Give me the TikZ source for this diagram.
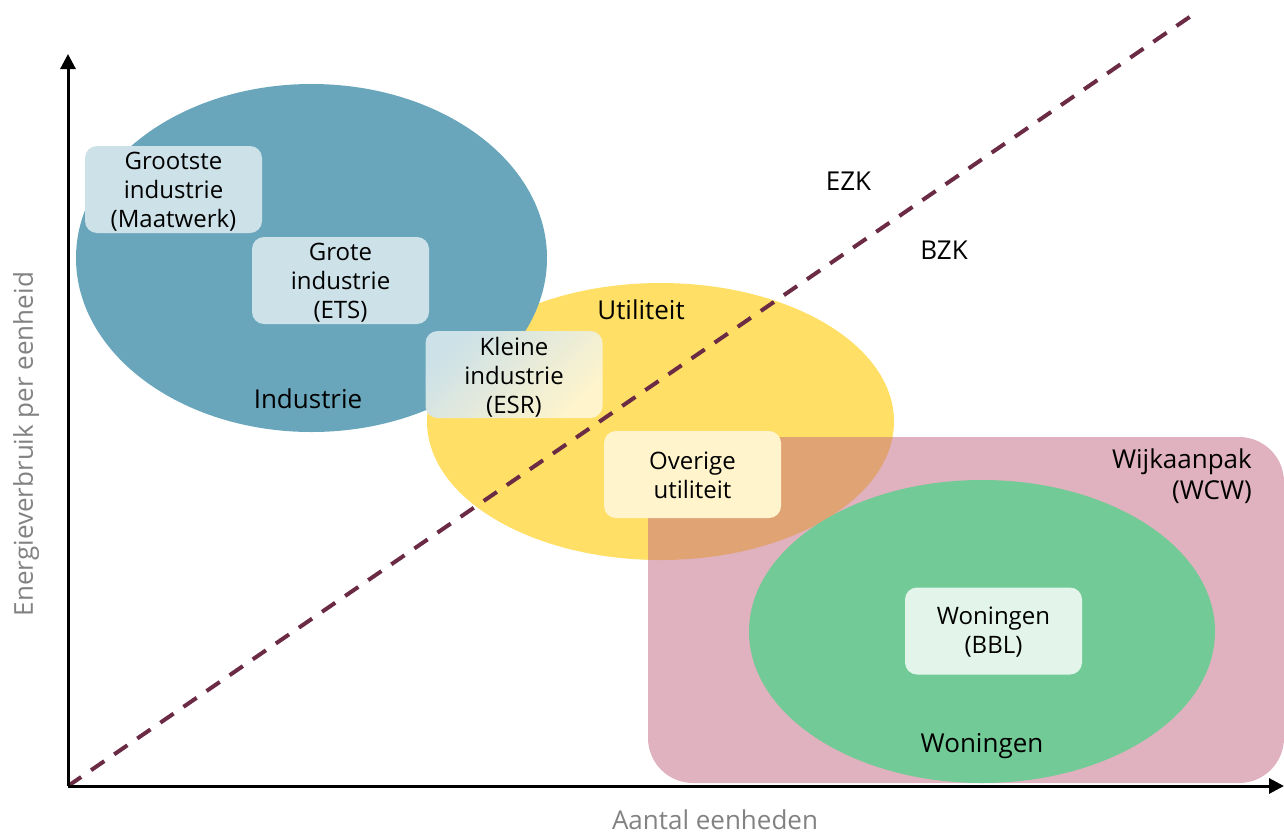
\documentclass[tikz,border=0pt]{standalone}
\usepackage{fontspec}
\setmainfont{Open Sans}
\usetikzlibrary{arrows.meta}
\definecolor{indblue}{HTML}{69A6BC}
\definecolor{boxblue}{HTML}{CCE1E8}
\definecolor{utilyellow}{HTML}{FFDF66}
\definecolor{boxyellow}{HTML}{FFF4CC}
\definecolor{wijkpink}{HTML}{E0B1BE}
\definecolor{overlaporange}{HTML}{E0A373}
\definecolor{wongreen}{HTML}{72CA97}
\definecolor{boxgreen}{HTML}{E3F4EA}
\definecolor{dashmaroon}{HTML}{6B2B45}
\definecolor{axisgray}{HTML}{828282}
\begin{document}
\begin{tikzpicture}[x=1pt,y=-1pt,
  infobox/.style={rounded corners=12pt, minimum width=177pt, minimum height=87pt, inner sep=0pt},
  boxtext/.style={inner sep=0pt, align=center, font=\fontsize{24}{29}\selectfont},
  regionlabel/.style={inner sep=0pt, font=\fontsize{26}{31}\selectfont},
  axislabel/.style={inner sep=0pt, text=axisgray, font=\fontsize{26}{31}\selectfont},
  axisline/.style={line width=3pt, -{Triangle[length=15pt,width=15pt]}}]
\useasboundingbox (0,0) rectangle (1284,835);
% regions
\fill[utilyellow] (660.5,421.5) ellipse [x radius=233.5, y radius=138.5];
\fill[indblue] (311.5,258) ellipse [x radius=235.5, y radius=174];
\fill[wijkpink, rounded corners=45pt] (648,437) rectangle (1284,783);
\begin{scope}
  \clip (660.5,421.5) ellipse [x radius=233.5, y radius=138.5];
  \fill[overlaporange, rounded corners=45pt] (648,437) rectangle (1284,783);
\end{scope}
\fill[wongreen] (982,631.5) ellipse [x radius=233, y radius=151.5];
% boxes
\node[infobox, fill=boxblue] (grootste) at (173.5,189.5) {};
\node[boxtext] (grootste-t) at ([yshift=-2.5pt]grootste.center) {Grootste\\industrie\\(Maatwerk)};
\node[infobox, fill=boxblue] (grote) at (340.5,280.5) {};
\node[boxtext] (grote-t) at ([yshift=-2.5pt]grote.center) {Grote\\industrie\\(ETS)};
\node[infobox, top color=boxblue, bottom color=boxyellow, shading angle=45] (kleine) at (514,374.5) {};
\node[boxtext] (kleine-t) at ([yshift=-2.5pt]kleine.center) {Kleine\\industrie\\(ESR)};
\node[infobox, fill=boxyellow] (overige) at (692.5,474.5) {};
\node[boxtext] (overige-t) at ([yshift=-1pt]overige.center) {Overige\\utiliteit};
\node[infobox, fill=boxgreen] (bbl) at (993.5,631) {};
\node[boxtext] (bbl-t) at ([yshift=-1pt]bbl.center) {Woningen\\(BBL)};
% axes
\coordinate (O) at (68,786);
\coordinate (ytip) at (68,54);
\coordinate (xtip) at (1284,786);
\coordinate (dend) at (1191,16);
\draw[dashmaroon, line width=4pt, dash pattern=on 16pt off 12pt] (O) -- (dend);
\draw[axisline] (O) -- (ytip);
\draw[axisline] (O) -- (xtip);
% labels
\node[regionlabel] (industrie) at (308,399) {Industrie};
\node[regionlabel] (utiliteit) at (641,310) {Utiliteit};
\node[regionlabel] (ezk) at (848.5,181) {EZK};
\node[regionlabel] (bzk) at (944,250) {BZK};
\node[regionlabel, align=right, anchor=east] (wijk) at (1252,476.5) {Wijkaanpak\\(WCW)};
\node[regionlabel] (woningen) at (982,746) {Woningen};
\node[axislabel] (xlabel) at (715,819.5) {Aantal eenheden};
\node[axislabel, rotate=90] (ylabel) at (26,444) {Energieverbruik per eenheid};
\end{tikzpicture}
\end{document}
